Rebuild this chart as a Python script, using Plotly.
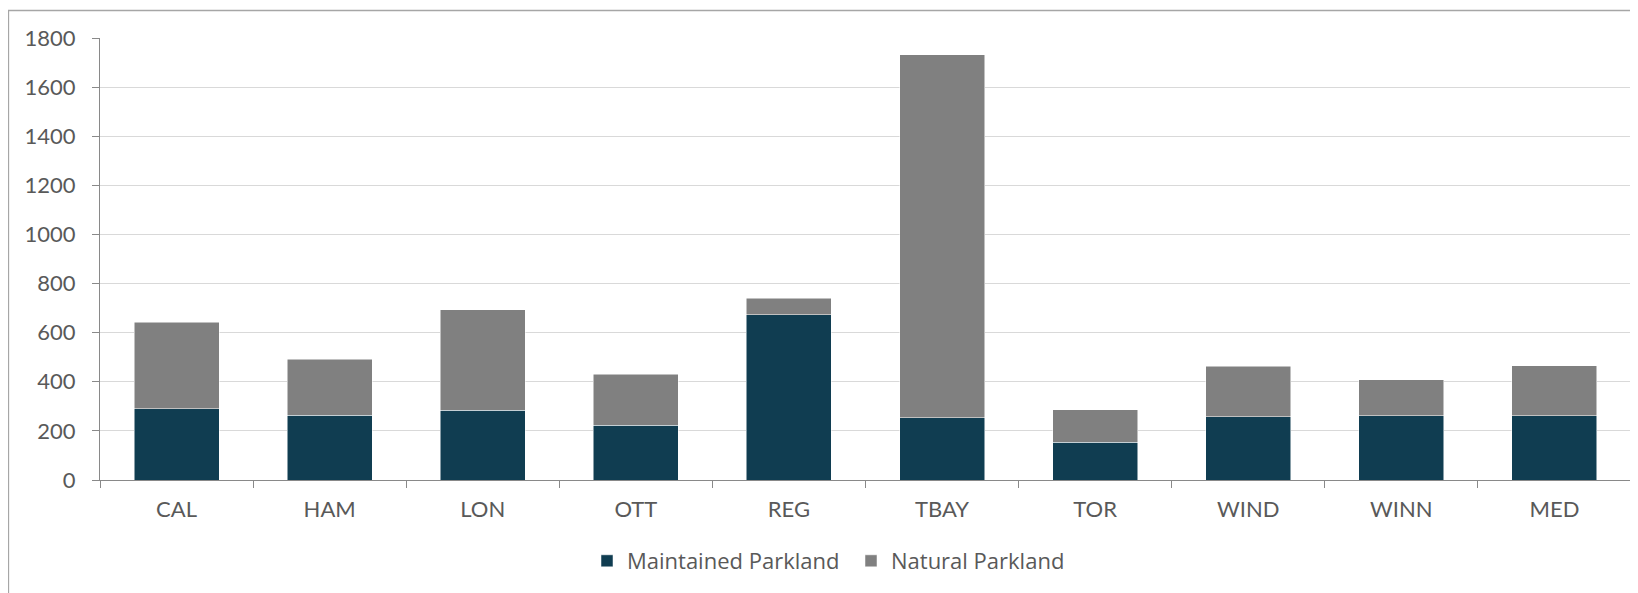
import plotly.graph_objects as go

categories = ["CAL", "HAM", "LON", "OTT", "REG", "TBAY", "TOR", "WIND", "WINN", "MED"]
maintained = [290, 264, 284, 222, 674, 254, 154, 258, 261, 261]
natural = [353, 228, 410, 208, 66, 1478, 133, 205, 148, 205]
y_ticks = [0, 200, 400, 600, 800, 1000, 1200, 1400, 1600, 1800]

W, H = 1638, 593
L, R, T, B = 92, 15, 30, 121
pw, ph = W - L - R, H - T - B

def px_x(p):
    return (p - L) / pw

def px_y(p):
    return (H - B - p) / ph

fig = go.Figure()
fig.add_trace(go.Bar(
    x=categories, y=maintained, name="Maintained Parkland",
    marker=dict(color="#103D51", line=dict(color="#FFFFFF", width=0.5)),
))
fig.add_trace(go.Bar(
    x=categories, y=natural, name="Natural Parkland",
    marker=dict(color="#808080", line=dict(color="#FFFFFF", width=0.5)),
))

fig.update_layout(
    width=W, height=H,
    margin=dict(l=L, r=R, t=T, b=B, pad=0, autoexpand=False),
    barmode="stack", bargap=0.445,
    plot_bgcolor="white", paper_bgcolor="white",
    font=dict(family="Lato", size=22, color="#595959"),
    legend=dict(
        orientation="h", xref="container", yref="container",
        x=579 / W, xanchor="left", y=(H - 553) / H, yanchor="middle",
        font=dict(family="Open Sans", size=22, color="#595959"),
        traceorder="normal", entrywidth=219, entrywidthmode="pixels",
    ),
    shapes=[dict(
        type="rect", xref="paper", yref="paper",
        x0=px_x(0.5), x1=px_x(W + 5), y0=px_y(H + 5), y1=px_y(2.5),
        line=dict(color="#A6A6A6", width=1.3), fillcolor="rgba(0,0,0,0)", layer="below",
    )],
)
fig.update_xaxes(
    type="category", showgrid=False, showline=True, linecolor="#898989", linewidth=1.3,
    ticks="outside", tickson="boundaries", ticklen=7, tickcolor="#898989", tickwidth=1.3,
    ticklabelstandoff=9, automargin=False,
)
fig.update_yaxes(
    range=[0, 1800], tickvals=y_ticks, showgrid=True, gridcolor="#D9D9D9", gridwidth=1.3,
    showline=True, linecolor="#898989", linewidth=1.3, zeroline=False,
    ticks="outside", ticklen=7, tickcolor="#898989", tickwidth=1.3,
    ticklabelstandoff=12, automargin=False,
)
fig.write_html("out.html")
